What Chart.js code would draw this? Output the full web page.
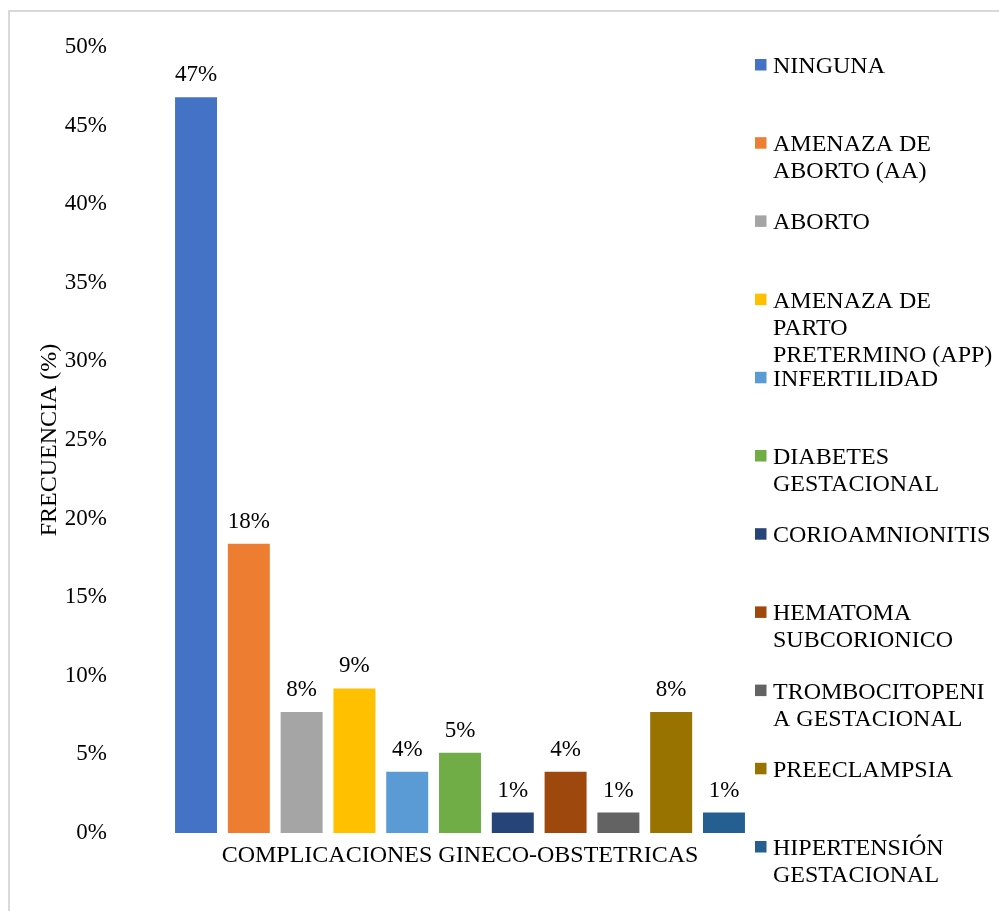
<!DOCTYPE html>
<html>
<head>
<meta charset="utf-8">
<title>Complicaciones gineco-obstetricas</title>
<script src="https://cdn.jsdelivr.net/npm/chart.js@4.4.0/dist/chart.umd.min.js"></script>
<style>
  html, body { margin: 0; padding: 0; background: #fff; overflow: hidden; }
  #wrap { position: relative; width: 999px; height: 911px; overflow: hidden; }
  #frame { position: absolute; left: 8px; top: 10px; width: 1200px; height: 1200px; border: 2px solid #d9d9d9; box-sizing: border-box; }
  #chart { position: absolute; left: 0; top: 0; }
</style>
</head>
<body>
<div id="wrap">
  <div id="frame"></div>
  <canvas id="chart" width="999" height="911"></canvas>
</div>
<script>
// data
const categories = ['COMPLICACIONES GINECO-OBSTETRICAS'];
const seriesNames = [
  ['NINGUNA'],
  ['AMENAZA DE', 'ABORTO (AA)'],
  ['ABORTO'],
  ['AMENAZA DE', 'PARTO', 'PRETERMINO (APP)'],
  ['INFERTILIDAD'],
  ['DIABETES', 'GESTACIONAL'],
  ['CORIOAMNIONITIS'],
  ['HEMATOMA', 'SUBCORIONICO'],
  ['TROMBOCITOPENI', 'A GESTACIONAL'],
  ['PREECLAMPSIA'],
  ['HIPERTENSIÓN', 'GESTACIONAL']
];
const seriesValues = [46.8, 18.4, 7.7, 9.2, 3.9, 5.1, 1.3, 3.9, 1.3, 7.7, 1.3];
const seriesColors = ['#4472C4', '#ED7D31', '#A5A5A5', '#FFC000', '#5B9BD5', '#70AD47',
  '#264478', '#9E480E', '#636363', '#997300', '#255E91'];
const yMin = 0;
const yMax = 50;
const yStep = 5;
const yTitle = 'FRECUENCIA (%)';

const FAMILY = "'Liberation Serif', 'Times New Roman', serif";
const FONT = { family: FAMILY, size: 23 };
const BIG = { family: FAMILY, size: 24 };
const TEXT = '#000';

// labels over each bar
const barLabels = {
  id: 'barLabels',
  afterDatasetsDraw(chart) {
    const ctx = chart.ctx;
    ctx.save();
    ctx.font = FONT.size + 'px ' + FAMILY;
    ctx.fillStyle = TEXT;
    ctx.textAlign = 'center';
    ctx.textBaseline = 'alphabetic';
    chart.data.datasets.forEach((ds, i) => {
      chart.getDatasetMeta(i).data.forEach((bar, j) => {
        ctx.fillText(Math.round(ds.data[j]) + '%', bar.x, bar.y - 16);
      });
    });
    ctx.restore();
  }
};

// legend on the right, names wrapped like the original
const sideLegend = {
  id: 'sideLegend',
  afterDraw(chart) {
    const ctx = chart.ctx;
    ctx.save();
    ctx.font = BIG.size + 'px ' + FAMILY;
    ctx.textAlign = 'left';
    ctx.textBaseline = 'alphabetic';
    chart.data.datasets.forEach((ds, i) => {
      const base = 73 + i * 78.2;
      ctx.fillStyle = ds.backgroundColor;
      ctx.fillRect(755, base - 14, 11.5, 11.5);
      ctx.fillStyle = TEXT;
      seriesNames[i].forEach((line, k) => ctx.fillText(line, 773, base + k * 27));
    });
    ctx.restore();
  }
};

const datasets = seriesValues.map((v, i) => ({
  label: seriesNames[i].join(' '),
  data: [v],
  backgroundColor: seriesColors[i],
  barPercentage: 0.795,
  categoryPercentage: 0.854
}));

new Chart(document.getElementById('chart'), {
  type: 'bar',
  data: { labels: categories, datasets: datasets },
  options: {
    responsive: false,
    animation: false,
    layout: { padding: { left: 35, top: 47, right: 199, bottom: 0 } },
    plugins: { legend: { display: false }, tooltip: { enabled: false } },
    scales: {
      x: {
        grid: { display: false, drawTicks: false },
        border: { display: false },
        ticks: { font: BIG, color: TEXT, padding: 8 },
        afterFit: s => { s.height = 78; }
      },
      y: {
        min: yMin,
        max: yMax,
        grid: { display: false, drawTicks: false },
        border: { display: false },
        ticks: { stepSize: yStep, font: FONT, color: TEXT, padding: 13, callback: v => v + '%' },
        title: { display: true, text: yTitle, font: BIG, color: TEXT, padding: 0 },
        afterFit: s => { s.width = 85; }
      }
    }
  },
  plugins: [barLabels, sideLegend]
});
</script>
</body>
</html>
